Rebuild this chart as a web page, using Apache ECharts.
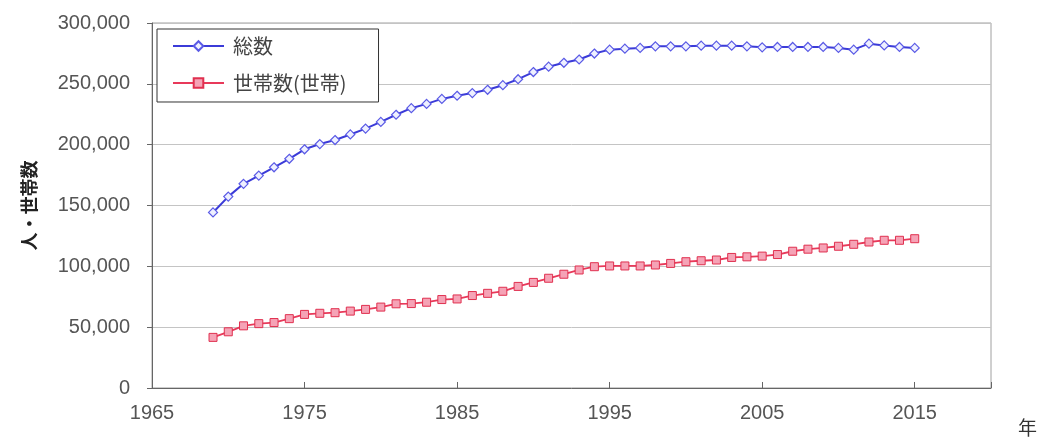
<!DOCTYPE html>
<html>
<head>
<meta charset="utf-8">
<script src="https://cdn.jsdelivr.net/npm/echarts@6/dist/echarts.min.js"></script>
<style>
  html, body { margin: 0; padding: 0; background: #fff; }
  #chart { width: 1043px; height: 437px; }
</style>
</head>
<body>
<div id="chart"></div>
<script>
// 年次（1969〜2015）
const years = [
  1969, 1970, 1971, 1972, 1973, 1974, 1975, 1976, 1977, 1978,
  1979, 1980, 1981, 1982, 1983, 1984, 1985, 1986, 1987, 1988,
  1989, 1990, 1991, 1992, 1993, 1994, 1995, 1996, 1997, 1998,
  1999, 2000, 2001, 2002, 2003, 2004, 2005, 2006, 2007, 2008,
  2009, 2010, 2011, 2012, 2013, 2014, 2015
];

// 総数（人）
const totalPop = [
  144300, 157300, 167800, 174600, 181400, 188400, 196200, 200500, 203800, 208400,
  213200, 218700, 224600, 230000, 233500, 237600, 240200, 242400, 245100, 248900,
  253800, 259700, 264100, 267300, 270000, 274900, 278100, 278900, 279500, 280800,
  280800, 280800, 281400, 281400, 281400, 280800, 280000, 280300, 280300, 280300,
  280300, 279500, 278100, 283000, 281600, 280300, 279500
];

// 世帯数（世帯）
const households = [
  41600, 46200, 51100, 52900, 53800, 57000, 60500, 61400, 61900, 63200,
  64600, 66500, 69200, 69400, 70500, 72700, 73200, 76000, 77800, 79500,
  83500, 86800, 90200, 93500, 97000, 99700, 100300, 100300, 100300, 101100,
  102400, 103800, 104600, 105200, 107300, 107800, 108400, 109700, 112400, 114100,
  115100, 116500, 118100, 120000, 121400, 121400, 122700
];

const yTicks = { min: 0, max: 300000, step: 50000 };
const xTicks = { min: 1965, max: 2020, step: 10 };

const seriesNames = ['総数', '世帯数(世帯)'];

const numFont = '"Liberation Sans", "Noto Sans CJK JP", sans-serif';
const jpFont = '"Noto Sans CJK JP", "Liberation Sans", sans-serif';

const toPairs = (vals) => years.map((y, i) => [y, vals[i]]);

const chart = echarts.init(document.getElementById('chart'), null, { renderer: 'canvas' });

chart.setOption({
  animation: false,
  backgroundColor: '#ffffff',
  grid: {
    left: 152, right: 52, top: 23, bottom: 44,
    show: true, borderColor: '#a0a0a0', borderWidth: 1
  },
  legend: {
    orient: 'vertical',
    left: 157, top: 29,
    data: seriesNames,
    itemWidth: 51, itemHeight: 12,
    itemGap: 17,
    padding: [7, 32, 9, 15],
    borderColor: '#333', borderWidth: 1,
    backgroundColor: '#fff',
    textStyle: {
      fontFamily: jpFont, fontSize: 20, color: '#444',
      lineHeight: 18, padding: [0, 0, 0, 4]
    }
  },
  xAxis: {
    type: 'value',
    min: xTicks.min, max: xTicks.max, interval: xTicks.step,
    name: '年',
    nameLocation: 'end',
    nameGap: 27,
    nameTextStyle: {
      fontFamily: jpFont, fontSize: 19, color: '#333',
      align: 'left', verticalAlign: 'top', padding: [30, 0, 0, 0]
    },
    axisLine: { show: true, onZero: false, lineStyle: { color: '#666', width: 1 } },
    axisTick: { show: true, inside: true, length: 6, lineStyle: { color: '#666' } },
    splitLine: { show: false },
    axisLabel: {
      margin: 15,
      fontFamily: numFont, fontSize: 20, color: '#555',
      formatter: (v) => (v === xTicks.max ? '' : String(v))
    }
  },
  yAxis: {
    type: 'value',
    min: yTicks.min, max: yTicks.max, interval: yTicks.step,
    name: '人・世帯数',
    nameLocation: 'middle',
    nameRotate: 90,
    nameGap: 114,
    nameTextStyle: { fontFamily: jpFont, fontSize: 18, fontWeight: 'bold', color: '#222' },
    axisLine: { show: true, lineStyle: { color: '#666', width: 1 } },
    axisTick: { show: true, inside: false, length: 5, lineStyle: { color: '#666' } },
    splitLine: { show: true, lineStyle: { color: '#c4c4c4', width: 1 } },
    axisLabel: {
      margin: 22,
      fontFamily: numFont, fontSize: 20, color: '#555',
      formatter: (v) => v.toLocaleString('en-US')
    }
  },
  series: [
    {
      name: seriesNames[0],
      type: 'line',
      data: toPairs(totalPop),
      symbol: 'diamond',
      symbolSize: 9,
      lineStyle: { color: '#3b3bd8', width: 2 },
      itemStyle: { color: '#eef0ff', borderColor: '#5a5ae6', borderWidth: 1.2 }
    },
    {
      name: seriesNames[1],
      type: 'line',
      data: toPairs(households),
      symbol: 'rect',
      symbolSize: 8,
      lineStyle: { color: '#e8395a', width: 1.8 },
      itemStyle: { color: '#f5a3b6', borderColor: '#e0304f', borderWidth: 1 }
    }
  ]
});
</script>
</body>
</html>
